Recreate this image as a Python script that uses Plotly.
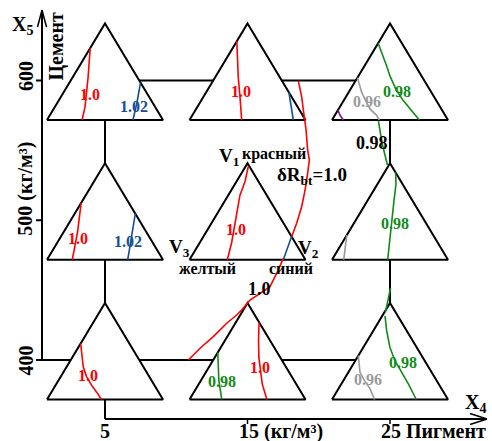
import plotly.graph_objects as go

# ---------------- data ----------------
pigment_levels = [5, 15, 25]        # X4, Пигмент, кг/м3
cement_levels = [400, 500, 600]     # X5, Цемент, кг/м3
pigment_tick_labels = ["5", "15 (кг/м³)", "25 Пигмент"]
cement_tick_labels = ["400", "500 (кг/м³)", "600"]

# iso-lines inside each mixture triangle, barycentric:
# v1 = V1 (красный), v2 = V2 (синий), V3 (желтый) = 1 - v1 - v2
# cement 600, pigment 5
c600_p5_r10_v1 = [0.745, 0.44, 0.133, 0.0]
c600_p5_r10_v2 = [0.0, 0.134, 0.261, 0.302]
c600_p5_b102_v1 = [0.388, 0.184, 0.0]
c600_p5_b102_v2 = [0.612, 0.684, 0.741]
# cement 600, pigment 15
c600_p15_r10_v1 = [0.816, 0.439, 0.235, 0.0]
c600_p15_r10_v2 = [0.0, 0.201, 0.318, 0.45]
c600_p15_b_v1 = [0.286, 0.133, 0.0]
c600_p15_b_v2 = [0.714, 0.808, 0.895]
# cement 600, pigment 25
c600_p25_p_v1 = [0.102, 0.051, 0.0]
c600_p25_p_v2 = [0.0, 0.043, 0.098]
c600_p25_g096_v1 = [0.439, 0.286, 0.194, 0.115, 0.048, 0.0]
c600_p25_g096_v2 = [0.0, 0.113, 0.196, 0.27, 0.361, 0.408]
c600_p25_g098_v1 = [0.796, 0.66, 0.558, 0.457, 0.316, 0.201, 0.115, 0.0]
c600_p25_g098_v2 = [0.0, 0.112, 0.193, 0.271, 0.394, 0.514, 0.615, 0.753]
# cement 500, pigment 5
c500_p5_r10_v1 = [0.589, 0.284, 0.0]
c500_p5_r10_v2 = [0.0, 0.121, 0.218]
c500_p5_b102_v1 = [0.477, 0.0]
c500_p5_b102_v2 = [0.523, 0.696]
# cement 500, pigment 15
c500_p15_r10_v1 = [0.968, 0.811, 0.67, 0.477, 0.179, 0.0]
c500_p15_r10_v2 = [0.023, 0.073, 0.1, 0.168, 0.274, 0.326]
c500_p15_b_v1 = [0.24, 0.0]
c500_p15_b_v2 = [0.76, 0.809]
# cement 500, pigment 25
c500_p25_g096_v1 = [0.255, 0.0]
c500_p25_g096_v2 = [0.0, 0.101]
c500_p25_g098_v1 = [0.904, 0.784, 0.642, 0.5, 0.252, 0.0]
c500_p25_g098_v2 = [0.096, 0.16, 0.216, 0.273, 0.377, 0.48]
# cement 400, pigment 5
c400_p5_r10_v1 = [0.58, 0.336, 0.24, 0.146, 0.076, 0.0]
c400_p5_r10_v2 = [0.0, 0.145, 0.22, 0.312, 0.39, 0.47]
# cement 400, pigment 15
c400_p15_g098_v1 = [0.488, 0.196, 0.093, 0.0]
c400_p15_g098_v2 = [0.0, 0.155, 0.22, 0.278]
c400_p15_r10_v1 = [0.8, 0.608, 0.436, 0.162, 0.0]
c400_p15_r10_v2 = [0.2, 0.291, 0.38, 0.546, 0.667]
# cement 400, pigment 25
c400_p25_g096_v1 = [0.454, 0.281, 0.196, 0.113, 0.0]
c400_p25_g096_v2 = [0.0, 0.101, 0.182, 0.271, 0.367]
c400_p25_g098_v1 = [0.866, 0.711, 0.539, 0.402, 0.162, 0.0]
c400_p25_g098_v2 = [0.024, 0.116, 0.23, 0.342, 0.577, 0.727]

# delta R_bt = 1.0 boundary in the (pigment, cement) plane (None = hidden inside triangle)
drb_pigment = [18.57, 18.80, 18.92, 19.11, 19.22, 19.34, 19.22, 19.04, 18.80, 18.45, 18.10,
               None, 17.50, 17.16, 16.58, 15.18, 14.59, 14.24, 13.54, 12.60, 11.67, 10.85]
drb_cement = [599.6, 588.4, 578.9, 564.6, 550.3, 543.1, 533.6, 521.6, 509.7, 497.8, 488.2,
              None, 472.5, 464.4, 452.5, 442.9, 435.8, 432.2, 426.3, 416.7, 408.4, 400.0]
# 0.98 boundary pieces between triangles (pigment 25 column)
g098_pigment = [24.19, 24.44, 24.82, None, 25.04, 24.89, 24.68]
g098_cement = [571.0, 555.3, 539.5, None, 451.5, 444.4, 434.3]

# ---------------- styling / geometry ----------------
FONT = "Liberation Serif, Times New Roman, serif"
RED, BLUE, GREEN, GRAY, PURPLE = "#ff0000", "#174f8f", "#128a1a", "#9a9a9a", "#8a168a"
W, H = 492, 441
X_PX0, X_SCALE = 105.0, 14.25      # pixel of pigment 5, pixels per pigment unit
Y_PX0, Y_SCALE = 80.5, 1.3975      # pixel of cement 600, pixels per cement unit
x_range = [5 - X_PX0 / X_SCALE, 5 + (W - X_PX0) / X_SCALE]
y_range = [600 - (H - Y_PX0) / Y_SCALE, 600 + Y_PX0 / Y_SCALE]


def dxu(px):
    return px / X_SCALE


def dyu(px):
    return px / Y_SCALE


def X(px):  # absolute pixel -> pigment
    return 5 + (px - X_PX0) / X_SCALE


def Y(py):  # absolute pixel -> cement
    return 600 - (py - Y_PX0) / Y_SCALE


TRI_UP, TRI_DOWN, TRI_HALF = 57.0, 39.5, 58.0


def tri(p, c):
    apex = (p, c + dyu(TRI_UP))
    right = (p + dxu(TRI_HALF), c - dyu(TRI_DOWN))
    left = (p - dxu(TRI_HALF), c - dyu(TRI_DOWN))
    return apex, right, left


def bary(p, c, v1s, v2s):
    A, R, L = tri(p, c)
    xs, ys = [], []
    for v1, v2 in zip(v1s, v2s):
        v3 = 1 - v1 - v2
        xs.append(v1 * A[0] + v2 * R[0] + v3 * L[0])
        ys.append(v1 * A[1] + v2 * R[1] + v3 * L[1])
    return xs, ys


contours = [
    (5, 600, c600_p5_r10_v1, c600_p5_r10_v2, RED, "1.0", (0.265, 0.238)),
    (5, 600, c600_p5_b102_v1, c600_p5_b102_v2, BLUE, "1.02", (0.143, 0.679)),
    (15, 600, c600_p15_r10_v1, c600_p15_r10_v2, RED, "1.0", (0.296, 0.294)),
    (15, 600, c600_p15_b_v1, c600_p15_b_v2, BLUE, None, None),
    (25, 600, c600_p25_p_v1, c600_p25_p_v2, PURPLE, None, None),
    (25, 600, c600_p25_g096_v1, c600_p25_g096_v2, GRAY, "0.96", (0.191, 0.204)),
    (25, 600, c600_p25_g098_v1, c600_p25_g098_v2, GREEN, "0.98", (0.299, 0.411)),
    (5, 500, c500_p5_r10_v1, c500_p5_r10_v2, RED, "1.0", (0.224, 0.158)),
    (5, 500, c500_p5_b102_v1, c500_p5_b102_v2, BLUE, "1.02", (0.189, 0.607)),
    (15, 500, c500_p15_r10_v1, c500_p15_r10_v2, RED, "1.0", (0.316, 0.243)),
    (15, 500, c500_p15_b_v1, c500_p15_b_v2, BLUE, None, None),
    (25, 500, c500_p25_g096_v1, c500_p25_g096_v2, GRAY, None, None),
    (25, 500, c500_p25_g098_v1, c500_p25_g098_v2, GREEN, "0.98", (0.376, 0.355)),
    (5, 400, c400_p5_r10_v1, c400_p5_r10_v2, RED, "1.0", (0.247, 0.233)),
    (15, 400, c400_p15_g098_v1, c400_p15_g098_v2, GREEN, "0.98", (0.189, 0.188)),
    (15, 400, c400_p15_r10_v1, c400_p15_r10_v2, RED, "1.0", (0.327, 0.443)),
    (25, 400, c400_p25_g096_v1, c400_p25_g096_v2, GRAY, "0.96", (0.203, 0.212)),
    (25, 400, c400_p25_g098_v1, c400_p25_g098_v2, GREEN, "0.98", (0.385, 0.422)),
]

fig = go.Figure()

# triangles (white filled, hide grid lines behind them)
for c in cement_levels:
    for p in pigment_levels:
        A, R, L = tri(p, c)
        fig.add_trace(go.Scatter(x=[L[0], A[0], R[0], L[0]], y=[L[1], A[1], R[1], L[1]],
                                 mode="lines", fill="toself", fillcolor="white",
                                 line=dict(color="black", width=2), hoverinfo="skip"))

annotations = []


def ann(x, y, text, size, color="black", angle=0, xanchor="center", yanchor="middle"):
    annotations.append(dict(x=x, y=y, xref="x", yref="y", text="<b>" + text + "</b>",
                            showarrow=False, textangle=angle, xanchor=xanchor, yanchor=yanchor,
                            font=dict(family=FONT, size=size, color=color), borderpad=0))


for p, c, v1s, v2s, col, lab, lpos in contours:
    xs, ys = bary(p, c, v1s, v2s)
    fig.add_trace(go.Scatter(x=xs, y=ys, mode="lines", line=dict(color=col, width=1.6),
                             hoverinfo="skip"))
    if lab:
        lx, ly = bary(p, c, [lpos[0]], [lpos[1]])
        ann(lx[0], ly[0], lab, 16, col)

fig.add_trace(go.Scatter(x=drb_pigment, y=drb_cement, mode="lines",
                         line=dict(color=RED, width=1.6), hoverinfo="skip"))
fig.add_trace(go.Scatter(x=g098_pigment, y=g098_cement, mode="lines",
                         line=dict(color=GREEN, width=1.6), hoverinfo="skip"))

# ---------------- frame lines ----------------
shapes = []


def seg(x0, y0, x1, y1, w=2):
    shapes.append(dict(type="line", xref="x", yref="y", x0=x0, y0=y0, x1=x1, y1=y1,
                       layer="below", line=dict(color="black", width=w)))


y_axis_p = X(42)
x_axis_c = Y(419)
tick_p = X(36)
y_tip = Y(10)
x_tip = X(487)
p_lo, p_hi = pigment_levels[0], pigment_levels[-1]
c_lo, c_hi = cement_levels[0], cement_levels[-1]

seg(p_lo, c_hi, p_hi, c_hi)                 # 600 row line
seg(tick_p, c_lo, p_hi, c_lo)               # 400 row line
seg(p_lo, c_hi, p_lo, x_axis_c)             # pigment 5 column
seg(p_hi, c_hi, p_hi, c_lo)                 # pigment 25 column
seg(y_axis_p, c_lo, y_axis_p, y_tip)        # Y axis
for c in cement_levels[1:]:
    seg(tick_p, c, y_axis_p, c)
seg(y_axis_p - dxu(4.5), y_tip - dyu(17), y_axis_p, y_tip, 1.5)
seg(y_axis_p + dxu(4.5), y_tip - dyu(17), y_axis_p, y_tip, 1.5)
seg(p_lo, x_axis_c, x_tip, x_axis_c)        # X axis
for p in pigment_levels[1:]:
    seg(p, x_axis_c, p, x_axis_c - dyu(5), 1.5)
seg(x_tip - dxu(17), x_axis_c + dyu(5.5), x_tip, x_axis_c, 1.5)
seg(x_tip - dxu(17), x_axis_c - dyu(5.5), x_tip, x_axis_c, 1.5)

# ---------------- text ----------------
lab_x = X(25.5)
ann(lab_x, cement_levels[0] - dyu(1), cement_tick_labels[0], 20, angle=-90)
ann(lab_x, cement_levels[1] + dyu(31), cement_tick_labels[1], 20, angle=-90)
ann(lab_x, cement_levels[2] + dyu(4), cement_tick_labels[2], 20, angle=-90)
ann(X(55.5), Y(47), "Цемент", 20, angle=-90)
ann(X(11), Y(25), "X<sub>5</sub>", 20, xanchor="left")

lab_y = Y(431)
ann(pigment_levels[0], lab_y, pigment_tick_labels[0], 20)
ann(pigment_levels[1] - dxu(10), lab_y, pigment_tick_labels[1], 20, xanchor="left")
ann(pigment_levels[2] - dxu(10), lab_y, pigment_tick_labels[2], 20, xanchor="left")
ann(X(464), Y(403), "X<sub>4</sub>", 20, xanchor="left")

# labels around the central (500, 15) triangle
ann(X(240), Y(157), "V<sub>1</sub>", 19, xanchor="right")
ann(X(241), Y(154), "красный", 16, xanchor="left")
ann(X(179), Y(248), "V<sub>3</sub>", 19)
ann(X(207), Y(268), "желтый", 16)
ann(X(308), Y(249), "V<sub>2</sub>", 19)
ann(X(290.5), Y(268), "синий", 16)
ann(X(312), Y(176), "δR<sub>bt</sub>=1.0", 19)
ann(X(259), Y(289), "1.0", 18)
ann(X(372), Y(143), "0.98", 18)

fig.update_layout(
    width=W, height=H, margin=dict(l=0, r=0, t=0, b=0),
    paper_bgcolor="white", plot_bgcolor="white", showlegend=False,
    xaxis=dict(range=x_range, visible=False, fixedrange=True),
    yaxis=dict(range=y_range, visible=False, fixedrange=True),
    shapes=shapes, annotations=annotations,
)
fig.write_html("out.html", config={"displayModeBar": False},
               post_script="document.body.style.margin='0px';document.body.style.overflow='hidden';")
